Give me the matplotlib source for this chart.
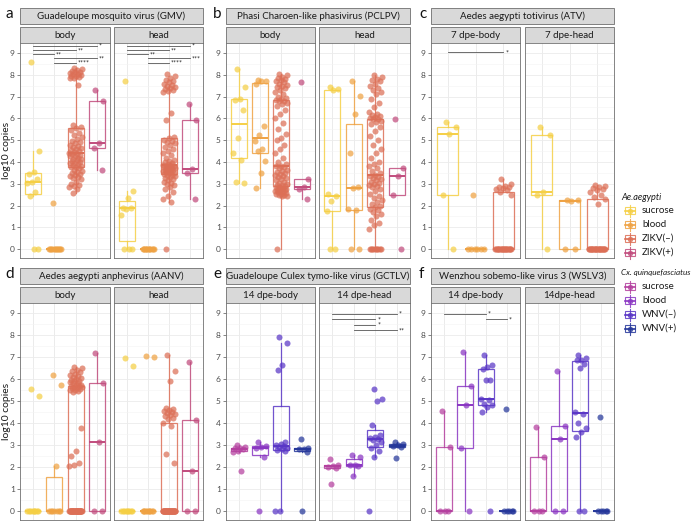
import matplotlib
matplotlib.use('Agg')
import matplotlib.pyplot as plt
from matplotlib.patches import Rectangle
import numpy as np

plt.rcParams['font.family'] = ['Lato', 'DejaVu Sans']

W, H = 696, 522

aae_groups = ['sucrose', 'blood', 'ZIKV(–)', 'ZIKV(+)']
cxq_groups = ['sucrose', 'blood', 'WNV(–)', 'WNV(+)']
aae_colors = ['#F5CF45', '#EFA243', '#DC6F56', '#C14C7D']
cxq_colors = ['#B4409F', '#8A36C2', '#5936C6', '#25379A']

# ---- a: GMV ----
gmv_body = [
    [8.6, 4.5, 3.55, 3.45, 3.2, 3.1, 3.05, 2.6, 2.45, 0, 0],
    [2.1, 0, 0, 0, 0, 0, 0, 0, 0, 0, 0, 0, 0],
    [8.29, 8.25, 8.2, 8.17, 8.14, 8.11, 8.08, 8.05, 8.02, 7.99, 7.96, 7.93, 7.9, 7.87, 7.85, 7.52, 5.69, 5.62,
     5.55, 5.45, 5.35, 5.25, 5.15, 5.05, 4.98, 4.9, 4.85, 4.8, 4.75, 4.7, 4.65, 4.6, 4.55, 4.5, 4.47, 4.43,
     4.38, 4.35, 4.32, 4.28, 4.25, 4.2, 4.15, 4.12, 4.08, 4.05, 4.0, 3.97, 3.93, 3.9, 3.86, 3.82, 3.79, 3.76,
     3.72, 3.65, 3.6, 3.55, 3.5, 3.45, 3.4, 3.35, 3.3, 3.25, 3.2, 3.1, 3.0, 2.95, 2.9, 2.85, 2.75, 2.57],
    [7.32, 6.79, 4.87, 4.65, 3.65],
]
gmv_head = [
    [7.7, 2.65, 2.33, 1.9, 1.88, 1.85, 1.55, 0, 0, 0],
    [0, 0, 0, 0, 0, 0, 0, 0, 0, 0, 0, 0],
    [8.05, 7.95, 7.85, 7.78, 7.7, 7.65, 7.6, 7.55, 7.5, 7.45, 7.4, 7.35, 7.3, 7.25, 7.2, 6.25, 5.92, 5.15,
     5.08, 5.0, 4.95, 4.9, 4.85, 4.8, 4.7, 4.6, 4.5, 4.4, 4.3, 4.2, 4.1, 4.05, 4.0, 3.95, 3.9, 3.86,
     3.84, 3.82, 3.8, 3.78, 3.76, 3.74, 3.72, 3.7, 3.67, 3.65, 3.62, 3.6, 3.58, 3.55, 3.53, 3.5, 3.48, 3.45,
     3.42, 3.38, 3.35, 3.3, 3.25, 3.2, 3.15, 3.1, 3.05, 3.0, 2.95, 2.85, 2.75, 2.6, 2.45, 2.3, 2.17, 0],
    [6.68, 5.92, 3.66, 3.47, 2.32],
]
gmv_body_sig = [(1, 4, 9.33, '*'), (1, 3, 9.13, '**'), (1, 2, 8.94, '**'),
                (2, 4, 8.75, '**'), (2, 3, 8.55, '****')]
gmv_head_sig = [(1, 4, 9.33, '*'), (1, 3, 9.13, '**'), (1, 2, 8.94, '**'),
                (2, 4, 8.75, '***'), (2, 3, 8.55, '****')]

# ---- b: PCLPV ----
pclpv_body = [
    [8.25, 7.45, 6.9, 6.85, 6.4, 5.1, 4.4, 4.1, 3.1, 3.05],
    [7.75, 7.72, 7.7, 7.6, 5.65, 5.25, 4.95, 4.6, 4.5, 4.05, 3.5, 2.8],
    [8.05, 7.98, 7.9, 7.85, 7.8, 7.75, 7.7, 7.65, 7.6, 7.55, 7.5, 7.45, 7.4, 7.3, 7.2, 7.1, 7.0, 6.95, 6.9, 6.85,
     6.82, 6.78, 6.7, 6.65, 6.55, 6.4, 6.2, 6.0, 5.8, 5.5, 5.3, 5.1, 5.0, 4.8, 4.6, 4.4, 4.2, 4.0, 3.9, 3.82,
     3.8, 3.75, 3.7, 3.65, 3.6, 3.55, 3.5, 3.45, 3.4, 3.35, 3.3, 3.25, 3.2, 3.15, 3.1, 3.05, 3.0, 2.95, 2.92, 2.88,
     2.85, 2.84, 2.82, 2.8, 2.77, 2.75, 2.72, 2.7, 2.68, 2.65, 2.62, 2.6, 2.58, 2.55, 2.52, 2.5, 2.48, 2.45, 2.42, 0],
    [7.68, 3.2, 2.86, 2.74, 2.28],
]
pclpv_head = [
    [7.42, 7.35, 7.28, 2.55, 2.42, 2.2, 1.75, 0, 0],
    [7.72, 7.02, 6.19, 4.39, 2.85, 2.8, 1.85, 1.8, 0, 0],
    [7.98, 7.9, 7.8, 7.75, 7.7, 7.6, 7.5, 7.4, 7.3, 7.2, 7.1, 6.9, 6.7, 6.5, 6.3, 6.2, 6.15, 6.1, 6.05, 6.02,
     5.98, 5.95, 5.9, 5.85, 5.75, 5.6, 5.4, 5.2, 5.0, 4.8, 4.6, 4.4, 4.2, 4.0, 3.9, 3.8, 3.7, 3.6, 3.5, 3.41,
     3.37, 3.3, 3.25, 3.2, 3.15, 3.1, 3.05, 3.0, 2.95, 2.9, 2.85, 2.75, 2.65, 2.55, 2.45, 2.35, 2.25, 2.15, 2.05, 1.96,
     1.92, 1.85, 1.8, 1.7, 1.6, 1.5, 1.35, 1.2, 1.1, 0.9, 0, 0, 0, 0, 0, 0, 0, 0, 0, 0],
    [5.95, 3.73, 3.35, 2.48, 0],
]

# ---- c: ATV ----
atv_body = [
    [5.85, 5.6, 5.3, 2.5, 0],
    [2.5, 0, 0, 0, 0, 0, 0],
    [3.2, 3.0, 2.9, 2.85, 2.85, 2.8, 2.75, 2.7, 2.6, 2.5] + [0] * 22,
]
atv_head = [
    [5.6, 5.25, 2.62, 2.5, 0],
    [2.25, 2.25, 2.2, 0, 0],
    [2.95, 2.9, 2.85, 2.8, 2.75, 2.7, 2.6, 2.5, 2.4, 2.3, 2.05] + [0] * 26,
]
atv_body_sig = [(1, 3, 9.03, '*')]

# ---- d: AANV ----
aanv_body = [
    [5.55, 5.25, 0, 0, 0, 0, 0, 0, 0, 0, 0],
    [6.2, 5.75, 2.05, 0, 0, 0, 0, 0, 0, 0],
    [6.55, 6.5, 6.4, 6.35, 6.3, 6.25, 6.2, 6.15, 6.1, 6.05, 6.0, 5.97, 5.93, 5.9, 5.87, 5.84, 5.8, 5.75, 5.72, 5.7,
     5.68, 5.65, 5.62, 5.6, 5.58, 5.55, 5.52, 5.5, 5.45, 5.4, 3.79, 2.75, 2.5, 2.2, 2.1, 2.05] + [0] * 40,
    [7.17, 5.82, 3.15, 0, 0],
]
aanv_head = [
    [6.95, 6.6, 0, 0, 0, 0, 0, 0, 0, 0, 0],
    [7.05, 7.0, 0, 0, 0, 0, 0, 0, 0, 0, 0, 0],
    [7.09, 6.37, 5.92, 4.7, 4.65, 4.6, 4.55, 4.5, 4.45, 4.4, 4.35, 4.3, 4.25, 4.2, 3.98, 3.85, 2.58, 2.17] + [0] * 39,
    [6.79, 4.14, 1.82, 0, 0],
]

# ---- e: GCTLV ----
gctlv_body = [
    [3.0, 2.9, 2.88, 2.85, 2.8, 2.75, 2.7, 1.8],
    [3.14, 2.95, 2.9, 2.86, 2.45, 0],
    [7.9, 7.65, 6.62, 6.4, 3.15, 3.05, 3.0, 2.95, 2.9, 2.85, 2.8, 2.78, 2.75, 0, 0],
    [3.29, 2.85, 2.83, 2.8, 2.7, 0],
]
gctlv_head = [
    [2.35, 2.1, 2.05, 2.0, 1.95, 1.25],
    [2.55, 2.45, 2.1, 2.08, 2.05, 1.6],
    [5.55, 5.1, 5.0, 3.9, 3.45, 3.38, 3.32, 3.28, 3.22, 3.15, 3.0, 2.85, 2.75, 2.45, 0],
    [3.15, 3.05, 3.0, 2.95, 2.9, 2.4],
]
gctlv_head_sig = [(1, 4, 8.97, '*'), (1, 3, 8.71, '*'), (2, 3, 8.47, '*'), (2, 4, 8.21, '**')]

# ---- f: WSLV3 ----
wslv3_body = [
    [4.55, 2.9, 0, 0, 0],
    [7.25, 5.7, 4.8, 2.85, 0],
    [7.09, 6.64, 6.56, 6.45, 5.98, 5.95, 5.1, 5.05, 4.85, 4.8, 4.72, 4.52, 0],
    [4.62, 0, 0, 0, 0, 0],
]
wslv3_head = [
    [3.83, 2.47, 0, 0, 0],
    [6.35, 3.85, 3.26, 0, 0],
    [7.09, 6.95, 6.88, 6.85, 6.7, 6.5, 4.5, 4.42, 4.0, 3.77, 3.6, 3.35, 0, 0],
    [4.29, 0, 0, 0, 0, 0],
]
wslv3_body_sig = [(1, 3, 8.97, '*'), (3, 4, 8.71, '*')]

fig = plt.figure(figsize=(W / 100, H / 100), dpi=100)
ov = fig.add_axes([0, 0, 1, 1])
ov.set_xlim(0, W)
ov.set_ylim(H, 0)
ov.axis('off')


def rect(x0, y0, x1, y1):
    return [x0 / W, 1 - y1 / H, (x1 - x0) / W, (y1 - y0) / H]


def strip(x0, y0, x1, y1, txt):
    ov.add_patch(Rectangle((x0, y0), x1 - x0, y1 - y0, facecolor='#D9D9D9',
                           edgecolor='#6E6E6E', lw=0.6))
    ov.text((x0 + x1) / 2, (y0 + y1) / 2 + 0.5, txt, ha='center', va='center',
            fontsize=7, color='#1A1A1A')


def facet(x0, x1, row, data, colors, sigs, ylab):
    yt, yb = row
    ax = fig.add_axes(rect(x0, yt, x1, yb))
    n = len(data)
    ax.set_xlim(0.4, n + 0.6)
    ax.set_ylim(-0.41, 9.46)
    ax.set_yticks(range(10))
    ax.set_yticks(np.arange(0.5, 9.5, 1), minor=True)
    ax.set_xticks(range(1, n + 1))
    ax.grid(True, which='major', color='#EBEBEB', lw=0.6)
    ax.grid(True, which='minor', axis='y', color='#F3F3F3', lw=0.4)
    ax.set_axisbelow(True)
    ax.tick_params(axis='x', length=0, labelbottom=False)
    ax.tick_params(axis='y', which='minor', length=0)
    if ylab:
        ax.tick_params(axis='y', length=2.2, width=0.5, color='#555555', labelsize=6,
                       labelcolor='#4D4D4D', pad=1.5)
    else:
        ax.tick_params(axis='y', length=0, labelleft=False)
    for s in ax.spines.values():
        s.set_color('#707070')
        s.set_linewidth(0.6)
    for i, (vals, col) in enumerate(zip(data, colors), start=1):
        v = np.asarray(vals, dtype=float)
        ax.boxplot(v, positions=[i], widths=0.75, showfliers=False, showcaps=False,
                   patch_artist=True,
                   boxprops=dict(facecolor='none', edgecolor=col, lw=0.9, alpha=0.85),
                   medianprops=dict(color=col, lw=1.4),
                   whiskerprops=dict(color=col, lw=0.9, alpha=0.85))
        k = np.arange(len(v))
        jit = ((k * 0.618034 + 0.37) % 1 - 0.5) * 0.6
        ax.scatter(i + jit, v, s=19, color=col, alpha=0.72, lw=0, zorder=3, clip_on=False)
    for a, b, y, lab in sigs:
        ax.plot([a, b], [y, y], color='#555555', lw=0.6, clip_on=False)
        ax.text(b + 0.08, y - 0.02, lab, fontsize=5, ha='left', va='center',
                color='#222222', clip_on=False)
    return ax


row1 = (43, 258)
row2 = (303, 520)

panels = [
    ('a', 'Guadeloupe mosquito virus (GMV)', (20, 110), (114, 203), row1, ('body', 'head'),
     gmv_body, gmv_head, aae_colors, gmv_body_sig, gmv_head_sig, 5),
    ('b', 'Phasi Charoen-like phasivirus (PCLPV)', (226, 315), (319, 410), row1, ('body', 'head'),
     pclpv_body, pclpv_head, aae_colors, [], [], 213),
    ('c', 'Aedes aegypti totivirus (ATV)', (431, 520), (525, 614), row1, ('7 dpe-body', '7 dpe-head'),
     atv_body, atv_head, aae_colors[:3], atv_body_sig, [], 419),
    ('d', 'Aedes aegypti anphevirus (AANV)', (20, 110), (114, 203), row2, ('body', 'head'),
     aanv_body, aanv_head, aae_colors, [], [], 5),
    ('e', 'Guadeloupe Culex tymo-like virus (GCTLV)', (226, 315), (319, 410), row2, ('14 dpe-body', '14 dpe-head'),
     gctlv_body, gctlv_head, cxq_colors, [], gctlv_head_sig, 213),
    ('f', 'Wenzhou sobemo-like virus 3 (WSLV3)', (431, 520), (525, 614), row2, ('14 dpe-body', '14dpe-head'),
     wslv3_body, wslv3_head, cxq_colors, wslv3_body_sig, [], 419),
]

for lab, title, cb, ch, row, names, db, dh, cols, sb, sh, lx in panels:
    yt = row[0]
    facet(cb[0], cb[1], row, db, cols, sb, True)
    facet(ch[0], ch[1], row, dh, cols, sh, False)
    strip(cb[0], yt - 35, ch[1], yt - 19, title)
    strip(cb[0], yt - 16, cb[1], yt, names[0])
    strip(ch[0], yt - 16, ch[1], yt, names[1])
    ov.text(lx, yt - 36, lab, fontsize=11, ha='left', va='top', color='#111111')

for row in (row1, row2):
    ov.text(7, (row[0] + row[1]) / 2, 'log10 copies', rotation=90, ha='center',
            va='center', fontsize=7.5, color='#1A1A1A')


def legend(title, y0, labels, colors, tsize):
    ov.text(621, y0, title, fontsize=tsize, style='italic', ha='left', va='center', color='#1A1A1A')
    for j, (lab, col) in enumerate(zip(labels, colors)):
        yy = y0 + 13.5 + j * 14
        ov.plot([630, 630], [yy - 6, yy + 6], color=col, lw=0.8, alpha=0.85)
        ov.add_patch(Rectangle((625, yy - 3.5), 10, 7, facecolor='white', edgecolor=col,
                               lw=0.8, alpha=0.85))
        ov.plot([625, 635], [yy, yy], color=col, lw=1.2)
        ov.scatter([630], [yy], s=16, color=col, alpha=0.8, lw=0, zorder=5)
        ov.text(642, yy, lab, fontsize=7, ha='left', va='center', color='#1A1A1A')


legend('Ae.aegypti', 197, aae_groups, aae_colors, 6.6)
legend('Cx. quinquefasciatus', 273, cxq_groups, cxq_colors, 5.9)

fig.savefig('out.png', dpi=100)
